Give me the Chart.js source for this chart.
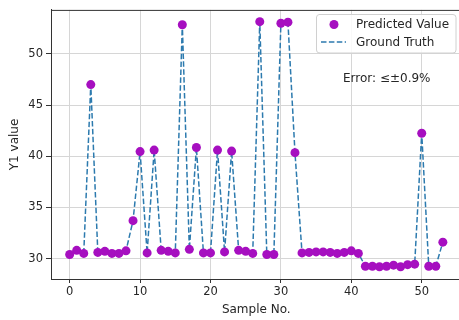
<!DOCTYPE html>
<html>
<head>
<meta charset="utf-8">
<script src="https://cdn.jsdelivr.net/npm/chart.js@4.4.1/dist/chart.umd.min.js"></script>
<style>
    body { margin: 0; overflow: hidden; background: white; }
    #wrap { width: 459px; height: 320px; overflow: hidden; }
</style>
</head>
<body>
<div id="wrap"><canvas id="chart" width="466" height="320"></canvas></div>
<script>
//Data
const sampleNo = [];
for(let i = 0; i < 54; i++){ sampleNo.push(i); }

const groundTruth = [
    30.4, 30.8, 30.5, 47.0, 30.6, 30.7, 30.5, 30.5, 30.75, 33.7,
    40.45, 30.55, 40.6, 30.8, 30.7, 30.55, 52.85, 30.9, 40.85, 30.55,
    30.55, 40.6, 30.65, 40.5, 30.8, 30.7, 30.5, 53.15, 30.4, 30.4,
    53.0, 53.1, 40.35, 30.55, 30.6, 30.65, 30.65, 30.6, 30.5, 30.6,
    30.75, 30.5, 29.25, 29.25, 29.2, 29.25, 29.35, 29.2, 29.4, 29.45,
    42.25, 29.25, 29.25, 31.6
];
const predicted = [
    30.4, 30.8, 30.5, 47.0, 30.6, 30.7, 30.5, 30.5, 30.75, 33.7,
    40.45, 30.55, 40.6, 30.8, 30.7, 30.55, 52.85, 30.9, 40.85, 30.55,
    30.55, 40.6, 30.65, 40.5, 30.8, 30.7, 30.5, 53.15, 30.4, 30.4,
    53.0, 53.1, 40.35, 30.55, 30.6, 30.65, 30.65, 30.6, 30.5, 30.6,
    30.75, 30.5, 29.25, 29.25, 29.2, 29.25, 29.35, 29.2, 29.4, 29.45,
    42.25, 29.25, 29.25, 31.6
];

const xTicks = [0, 10, 20, 30, 40, 50];
const yTicks = [30, 35, 40, 45, 50];
const legendLabels = ["Predicted Value", "Ground Truth"];
const errorText = "Error: \u2264\u00b10.9%";

const lineColor = "#2c7aae";
const markerColor = "#a60fc0";
const textColor = "#262626";
const fontFamily = "'DejaVu Sans', sans-serif";

function toPoints(values){
    return values.map((v, i) => ({x: sampleNo[i], y: v}));
}

//frame, legend and the error note
const extras = {
    id: "extras",
    afterDatasetsDraw(chart){
        const ctx = chart.ctx;
        const area = chart.chartArea;
        ctx.save();
        ctx.strokeStyle = "#333";
        ctx.lineWidth = 1;
        ctx.beginPath();
        ctx.moveTo(area.left, area.top + 0.5);
        ctx.lineTo(area.right, area.top + 0.5);
        ctx.stroke();

        //legend box
        const bx = 316, by = 14, bw = 140, bh = 39, r = 3;
        ctx.fillStyle = "rgba(255,255,255,0.85)";
        ctx.strokeStyle = "#d0d0d0";
        ctx.beginPath();
        ctx.moveTo(bx + r, by + 0.5);
        ctx.lineTo(bx + bw - r, by + 0.5);
        ctx.arcTo(bx + bw, by + 0.5, bx + bw, by + r, r);
        ctx.lineTo(bx + bw, by + bh - r);
        ctx.arcTo(bx + bw, by + bh, bx + bw - r, by + bh, r);
        ctx.lineTo(bx + r, by + bh);
        ctx.arcTo(bx + 0.5, by + bh, bx + 0.5, by + bh - r, r);
        ctx.lineTo(bx + 0.5, by + r);
        ctx.arcTo(bx + 0.5, by + 0.5, bx + r, by + 0.5, r);
        ctx.closePath();
        ctx.fill();
        ctx.stroke();

        ctx.fillStyle = markerColor;
        ctx.beginPath();
        ctx.arc(334, 24.5, 4.5, 0, Math.PI * 2);
        ctx.fill();

        ctx.strokeStyle = lineColor;
        ctx.lineWidth = 1.5;
        ctx.setLineDash([5.5, 2.4]);
        ctx.beginPath();
        ctx.moveTo(321, 42);
        ctx.lineTo(346, 42);
        ctx.stroke();
        ctx.setLineDash([]);

        ctx.fillStyle = textColor;
        ctx.font = "12px " + fontFamily;
        ctx.textBaseline = "middle";
        ctx.textAlign = "left";
        ctx.fillText(legendLabels[0], 356, 24.5);
        ctx.fillText(legendLabels[1], 356, 42.5);
        ctx.fillText(errorText, 343, 78.5);
        ctx.restore();
    }
};

new Chart(document.getElementById("chart"), {
    type: "line",
    data: {
        datasets: [{
            label: legendLabels[0],
            data: toPoints(predicted),
            showLine: false,
            pointRadius: 4.5,
            pointBorderWidth: 0,
            pointBackgroundColor: markerColor,
            order: 0
        }, {
            label: legendLabels[1],
            data: toPoints(groundTruth),
            borderColor: lineColor,
            borderWidth: 1.5,
            borderDash: [5.5, 2.4],
            pointRadius: 0,
            tension: 0,
            order: 1
        }]
    },
    plugins: [extras],
    options: {
        responsive: false,
        animation: false,
        events: [],
        layout: { padding: { top: 8, right: 4, bottom: 0, left: 0 } },
        plugins: { legend: { display: false }, tooltip: { enabled: false } },
        scales: {
            x: {
                type: "linear",
                min: -2.65,
                max: 55.65,
                afterBuildTicks(scale){ scale.ticks = xTicks.map(v => ({value: v})); },
                afterFit(scale){ scale.height = 41; },
                grid: { color: "#d6d6d6", lineWidth: 1, tickLength: 4, tickColor: "#333" },
                border: { color: "#333", width: 1 },
                ticks: { color: textColor, font: { family: fontFamily, size: 11.5 }, padding: 2, maxRotation: 0 },
                title: { display: true, text: "Sample No.", color: textColor,
                    font: { family: fontFamily, size: 12 }, padding: { top: 0, bottom: 3 } }
            },
            y: {
                min: 28.0,
                max: 54.3,
                afterBuildTicks(scale){ scale.ticks = yTicks.map(v => ({value: v})); },
                afterFit(scale){ scale.width = 51; },
                grid: { color: "#d6d6d6", lineWidth: 1, tickLength: 5, tickColor: "#333" },
                border: { color: "#333", width: 1 },
                ticks: { color: textColor, font: { family: fontFamily, size: 11.5 }, padding: 3 },
                title: { display: true, text: "Y1 value", color: textColor,
                    font: { family: fontFamily, size: 12 }, padding: { top: 8, bottom: 0 } }
            }
        }
    }
});
</script>
</body>
</html>
